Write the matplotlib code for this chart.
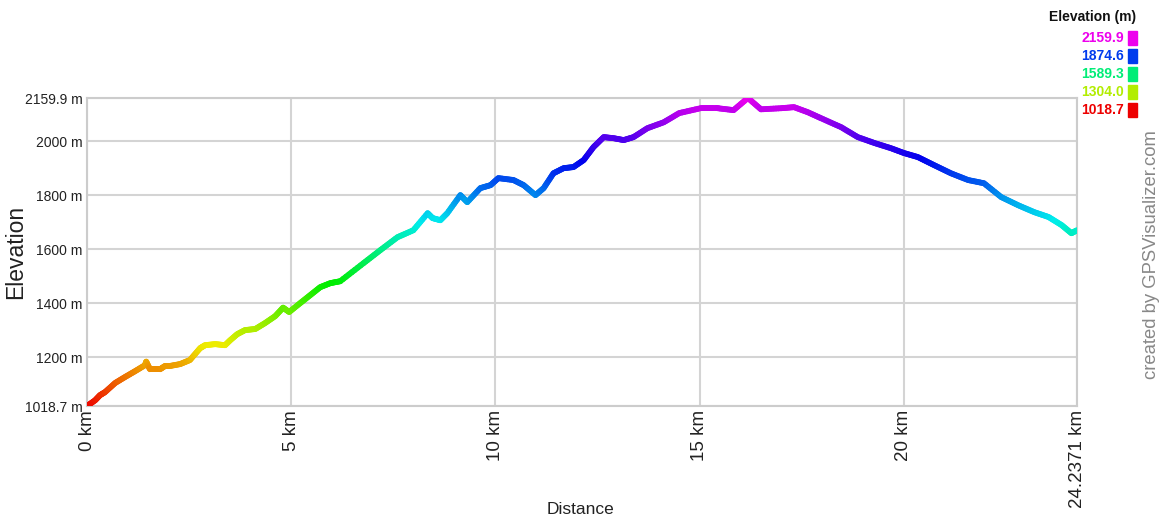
import numpy as np
import matplotlib
matplotlib.use("Agg")
import matplotlib.pyplot as plt
from matplotlib.collections import LineCollection
from matplotlib.colors import hsv_to_rgb

# elevation profile
dist_km = [0.00, 0.20, 0.32, 0.44, 0.69, 0.93, 1.18, 1.42, 1.45, 1.54, 1.79, 1.91, 2.03,
           2.28, 2.52, 2.77, 2.89, 3.14, 3.38, 3.51, 3.68, 3.87, 4.12, 4.36, 4.61,
           4.80, 4.95, 5.22, 5.47, 5.71, 5.96, 6.20, 6.77, 7.18, 7.60, 7.99, 8.34,
           8.46, 8.65, 8.82, 9.14, 9.31, 9.63, 9.88, 10.07, 10.44, 10.69, 10.98,
           11.18, 11.42, 11.67, 11.91, 12.16, 12.40, 12.65, 12.89, 13.14, 13.38,
           13.72, 14.12, 14.50, 15.02, 15.44, 15.83, 16.18, 16.50, 16.99, 17.31,
           17.65, 17.97, 18.46, 18.87, 19.28, 19.68, 20.00, 20.34, 20.74, 21.15,
           21.57, 21.96, 22.38, 22.79, 23.19, 23.54, 23.86, 24.10, 24.2371]
elev_m = [1018.7, 1040, 1059, 1070, 1104, 1126, 1148, 1170, 1183, 1155, 1155, 1167,
          1167, 1174, 1189, 1233, 1244, 1248, 1244, 1263, 1285, 1300, 1304, 1326,
          1352, 1383, 1367, 1400, 1430, 1459, 1474, 1481, 1548, 1596, 1644, 1670,
          1733, 1715, 1707, 1733, 1800, 1774, 1826, 1837, 1863, 1856, 1837, 1800,
          1826, 1881, 1900, 1904, 1930, 1978, 2015, 2011, 2004, 2015, 2048, 2070,
          2104, 2122, 2122, 2115, 2159.9, 2118, 2122, 2126, 2107, 2085, 2052,
          2015, 1993, 1974, 1956, 1941, 1911, 1881, 1856, 1844, 1793, 1763, 1737,
          1719, 1689, 1659, 1670]

y_ticks = [1018.7, 1200, 1400, 1600, 1800, 2000, 2159.9]
x_ticks = [0, 5, 10, 15, 20, 24.2371]
legend_vals = [2159.9, 1874.6, 1589.3, 1304.0, 1018.7]

EMIN, EMAX = 1018.7, 2159.9
FONT = ["Liberation Sans", "DejaVu Sans"]


def elev_color(e):
    frac = (e - EMIN) / (EMAX - EMIN)
    return hsv_to_rgb([300.0 / 360.0 * frac, 1.0, 0.93])


fig = plt.figure(figsize=(11.59, 5.23), dpi=100)
ax = fig.add_axes([87 / 1159, 1 - 406 / 523, 990 / 1159, 308 / 523])

# densify so the colour changes smoothly along each segment
x = np.asarray(dist_km)
y = np.asarray(elev_m)
xs, ys = [], []
for i in range(len(x) - 1):
    t = np.linspace(0, 1, 8, endpoint=False)
    xs.extend(x[i] + (x[i + 1] - x[i]) * t)
    ys.extend(y[i] + (y[i + 1] - y[i]) * t)
xs.append(x[-1])
ys.append(y[-1])
xs, ys = np.array(xs), np.array(ys)

pts = np.column_stack([xs, ys]).reshape(-1, 1, 2)
segs = np.concatenate([pts[:-1], pts[1:]], axis=1)
mid = (ys[:-1] + ys[1:]) / 2
lc = LineCollection(segs, colors=[elev_color(e) for e in mid], linewidth=4.2,
                    capstyle="round", joinstyle="round", zorder=3)
ax.add_collection(lc)

ax.set_xlim(0, 24.2371)
ax.set_ylim(EMIN, EMAX)

ax.set_yticks(y_ticks)
ax.set_yticklabels([f"{v:g} m" if v % 1 else f"{v:.0f} m" for v in y_ticks],
                   fontfamily=FONT, fontsize=10, color="#222222")
ax.set_xticks(x_ticks)
ax.set_xticklabels([f"{v:g} km" for v in x_ticks], rotation=90, va="top",
                   fontfamily=FONT, fontsize=13.5, color="#222222")
ax.tick_params(length=0, pad=3)

ax.grid(True, color="#d4d4d4", linewidth=1.5, zorder=0)
for s in ax.spines.values():
    s.set_color("#cccccc")
    s.set_linewidth(1.5)

fig.text(16 / 1159, 1 - 252 / 523, "Elevation", rotation=90, ha="center", va="center",
         fontfamily=FONT, fontsize=16.5, color="#222222")
fig.text(580 / 1159, 1 - 510 / 523, "Distance", ha="center", va="center",
         fontfamily=FONT, fontsize=12.5, color="#222222")

# elevation legend in the top right
fig.text(1093 / 1159, 1 - 17 / 523, "Elevation (m)", ha="center", va="center",
         fontfamily=FONT, fontsize=10, fontweight="bold", color="#111111")
for k, v in enumerate(legend_vals):
    yy = 1 - (38 + k * 18) / 523
    fig.text(1124 / 1159, yy, f"{v:.1f}", ha="right", va="center",
             fontfamily=FONT, fontsize=10, fontweight="bold", color=elev_color(v))
    fig.patches.append(plt.Rectangle((1128 / 1159, yy - 7 / 523), 9 / 1159, 14 / 523,
                                     transform=fig.transFigure, color=elev_color(v)))

fig.text(1152 / 1159, 1 - 255 / 523, "created by GPSVisualizer.com", rotation=90,
         ha="center", va="center", fontfamily=FONT, fontsize=13.3, color="#888888")

fig.savefig("out.png", dpi=100)
